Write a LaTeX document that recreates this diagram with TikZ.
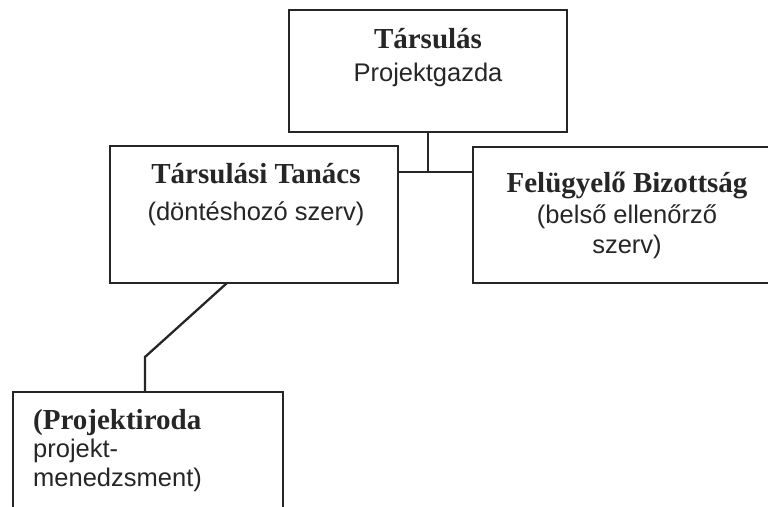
\documentclass[tikz,border=0pt]{standalone}
\usepackage{fontspec}
\setmainfont{Liberation Serif}
\newfontfamily\lsans{Liberation Sans}
\usetikzlibrary{calc}
\tikzset{
  orgbox/.style={draw=black!85, line width=2.3pt, rectangle, inner sep=0pt, outer sep=0pt},
  conn/.style={draw=black!85, line width=2.3pt},
  boldline/.style={inner sep=0pt, anchor=base, font=\bfseries\fontsize{29}{33}\selectfont, text=black!85},
  plainline/.style={inner sep=0pt, anchor=base, font=\lsans\fontsize{25.5}{30}\selectfont, text=black!85},
}
\begin{document}
\begin{tikzpicture}[x=1pt, y=-1pt]
\useasboundingbox (0,0) rectangle (768,506);
\clip (0,0) rectangle (768,506);
\fill[white] (0,0) rectangle (768,506);
% boxes
\node[orgbox, minimum width=278pt, minimum height=122pt] (top) at (428,71) {};
\node[orgbox, minimum width=288pt, minimum height=137pt] (left) at (254,214.5) {};
\node[orgbox, minimum width=320pt, minimum height=136pt] (right) at (633,215) {};
\node[orgbox, minimum width=270pt, minimum height=160pt] (bottom) at (148,472) {};
% texts
\node[boldline] (t1) at (428,48) {Társulás};
\node[plainline] (t2) at (428,81) {Projektgazda};
\node[boldline] (l1) at (256,183) {Társulási Tanács};
\node[plainline] (l2) at (256,220) {(döntéshozó szerv)};
\node[boldline] (r1) at (627,192) {Felügyelő Bizottság};
\node[plainline] (r2) at (627,223) {(belső ellenőrző};
\node[plainline] (r3) at (627,253) {szerv)};
\node[boldline, anchor=base west] (b1) at (33,429) {(Projektiroda};
\node[plainline, anchor=base west] (b2) at (33,457) {projekt-};
\node[plainline, anchor=base west] (b3) at (33,486) {menedzsment)};
% connectors
\coordinate (junc) at (428,172);
\coordinate (bend) at (145,357);
\draw[conn] (top.south) -- (junc);
\draw[conn] (left.east |- junc) -- (right.west |- junc);
\draw[conn] ([xshift=-27pt]left.south) -- (bend) -- (bottom.north -| bend);
\end{tikzpicture}
\end{document}
